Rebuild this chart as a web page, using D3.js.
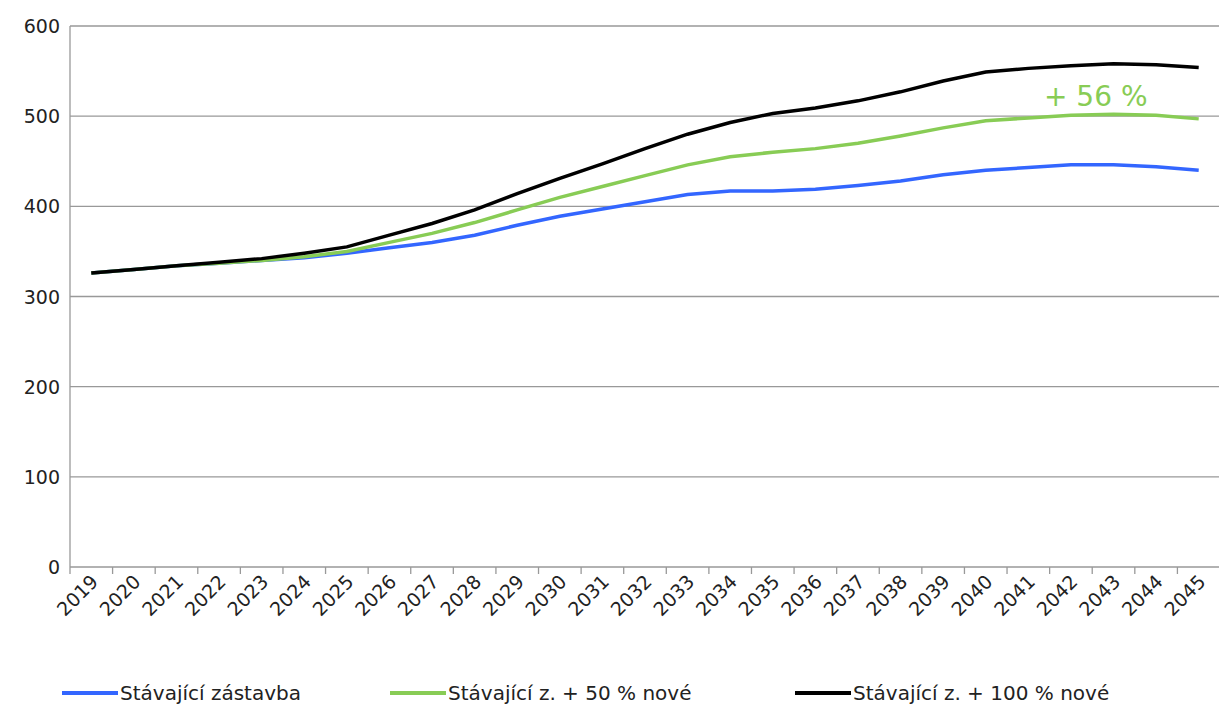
<!DOCTYPE html>
<html><head><meta charset="utf-8">
<script src="https://cdn.jsdelivr.net/npm/d3@7"></script>
<style>body{margin:0;background:#fff;font-family:"DejaVu Sans",Verdana,sans-serif;}</style>
</head><body><svg id="chart" width="1219" height="705"></svg>
<script>
// Chart data
const years = d3.range(2019, 2046).map(String);
const yTicks = [0, 100, 200, 300, 400, 500, 600];
const blueValues = [326,330,334,337,340,343,348,354,360,368,379,389,397,405,413,417,417,419,423,428,435,440,443,446,446,444,440];
const greenValues = [326,330,334,337,340,344,350,360,370,382,396,410,422,434,446,455,460,464,470,478,487,495,498,501,502,501,497];
const blackValues = [326,330,334,338,342,348,355,368,381,396,414,431,447,464,480,493,503,509,517,527,539,549,553,556,558,557,554];
const seriesNames = ["Stávající zástavba", "Stávající z. + 50 % nové", "Stávající z. + 100 % nové"];
const seriesColors = ["#3366ff", "#88cc55", "#000000"];

const svg = d3.select("#chart");
const plotLeft = 70, plotRight = 1220, plotTop = 26, plotBottom = 567;

const x = d3.scaleBand().domain(years).range([plotLeft, plotRight]);
const y = d3.scaleLinear().domain([0, 600]).range([plotBottom, plotTop]);

// Gridlines
svg.append("g").selectAll("line").data(yTicks).enter().append("line")
    .attr("x1", plotLeft).attr("x2", plotRight)
    .attr("y1", d => y(d)).attr("y2", d => y(d))
    .attr("stroke", "#999").attr("stroke-width", 1.3);

// Y labels
svg.append("g").selectAll("text").data(yTicks).enter().append("text")
    .attr("x", plotLeft - 10).attr("y", d => y(d) + 7)
    .attr("text-anchor", "end").attr("font-size", 19).attr("fill", "#222")
    .text(d => d);

// Y axis line
svg.append("line").attr("x1", plotLeft).attr("x2", plotLeft).attr("y1", plotTop).attr("y2", plotBottom)
    .attr("stroke", "#999").attr("stroke-width", 1.3);

// X ticks between categories
const tickPos = years.map(d => x(d)).concat([plotRight]);
svg.append("g").selectAll("line").data(tickPos).enter().append("line")
    .attr("x1", d => d).attr("x2", d => d).attr("y1", plotBottom).attr("y2", plotBottom + 7)
    .attr("stroke", "#999").attr("stroke-width", 1.3);

// X labels rotated
svg.append("g").selectAll("text").data(years).enter().append("text")
    .attr("transform", d => `translate(${x(d) + x.bandwidth()/2 + 8},${plotBottom + 16}) rotate(-45)`)
    .attr("text-anchor", "end").attr("font-size", 19).attr("fill", "#222")
    .text(d => d);

// Lines
const line = d3.line().x((d, i) => x(years[i]) + x.bandwidth()/2).y(d => y(d));
[blueValues, greenValues, blackValues].forEach((vals, i) => {
    svg.append("path").datum(vals).attr("d", line)
        .attr("fill", "none").attr("stroke", seriesColors[i]).attr("stroke-width", 3.5);
});

// Annotation
svg.append("text").attr("x", 1044).attr("y", 106).attr("font-size", 28)
    .attr("fill", "#88cc55").text("+ 56 %");

// Legend
const legendX = [62, 390, 795];
seriesNames.forEach((name, i) => {
    svg.append("line").attr("x1", legendX[i]).attr("x2", legendX[i] + 56)
        .attr("y1", 693).attr("y2", 693).attr("stroke", seriesColors[i]).attr("stroke-width", 4);
    svg.append("text").attr("x", legendX[i] + 58).attr("y", 700)
        .attr("font-size", 20).attr("fill", "#222").text(name);
});
</script></body></html>
